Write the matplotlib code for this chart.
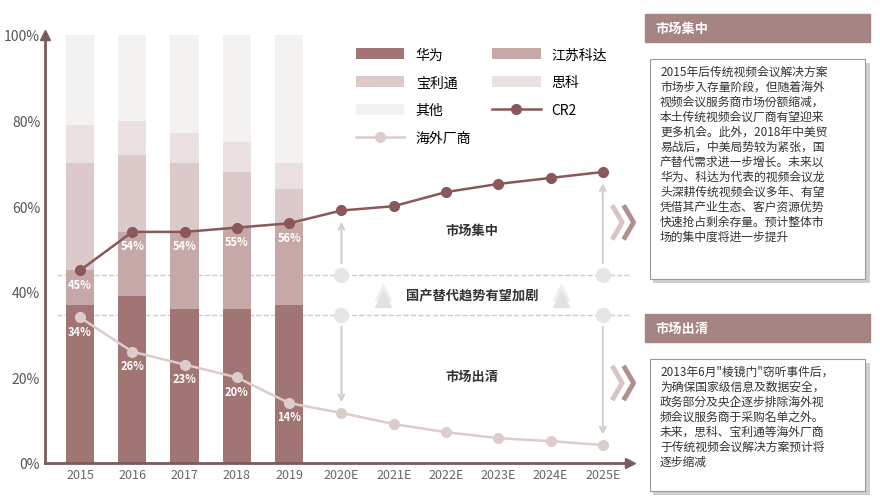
import matplotlib
matplotlib.use("Agg")
import matplotlib.pyplot as plt
from matplotlib import font_manager as fm
from matplotlib.patches import Rectangle
from matplotlib.lines import Line2D

names = sorted({f.name for f in fm.fontManager.ttflist if 'CJK' in f.name})
cjk = next((n for n in names if 'SC' in n), names[0] if names else 'DejaVu Sans')
plt.rcParams['font.family'] = [cjk, 'DejaVu Sans']

years = ['2015','2016','2017','2018','2019','2020E','2021E','2022E','2023E','2024E','2025E']
huawei = [37, 39, 36, 36, 37]
keda = [8, 15, 18, 19, 19]
poly = [25, 18, 16, 13, 8]
cisco = [9, 8, 7, 7, 6]
other = [21, 20, 23, 25, 30]
cr2 = [45, 54, 54, 55, 56, 59, 60, 63.3, 65.2, 66.6, 68]
overseas = [34, 26, 23, 20, 14, 11.7, 9.1, 7.2, 5.8, 5.1, 4.2]
cr2_labels = ['45%', '54%', '54%', '55%', '56%']
ov_labels = ['34%', '26%', '23%', '20%', '14%']

c_hw, c_kd, c_pl, c_cs, c_ot = '#a27575', '#c6a8a8', '#dcc9c9', '#ebe0e0', '#f4f1f1'
c_cr2, c_ov = '#8a5858', '#dccccc'
axc = '#7a5a5a'

fig = plt.figure(figsize=(8.8, 5.02), dpi=100)
ax = fig.add_axes([45/880, 38/502, 585/880, 428/502])
x = list(range(len(years)))
xb = x[:5]
w = 0.54
b = [0]*5
H = {}
for vals, col, lab in [(huawei, c_hw, '华为'), (keda, c_kd, '江苏科达'), (poly, c_pl, '宝利通'),
                       (cisco, c_cs, '思科'), (other, c_ot, '其他')]:
    H[lab] = ax.bar(xb, vals, w, bottom=b, color=col, label=lab, zorder=1)
    b = [bb + v for bb, v in zip(b, vals)]
H['CR2'], = ax.plot(x, cr2, color=c_cr2, lw=1.8, marker='o', ms=7, label='CR2', zorder=4)
H['海外厂商'], = ax.plot(x, overseas, color=c_ov, lw=1.8, marker='o', ms=7, label='海外厂商', zorder=4)
for i in range(5):
    ax.text(i, cr2[i] - 3.2, cr2_labels[i], ha='center', va='center', fontsize=8, color='white', fontweight='bold', zorder=5)
    ax.text(i, overseas[i] - 3.2, ov_labels[i], ha='center', va='center', fontsize=8, color='white', fontweight='bold', zorder=5)

ax.set_xlim(-0.67, 10.52)
ax.set_ylim(0, 100)
ax.set_xticks(x)
ax.set_xticklabels(years, fontsize=9, color='#666666')
ax.set_yticks([0, 20, 40, 60, 80, 100])
ax.set_yticklabels(['0%', '20%', '40%', '60%', '80%', '100%'], fontsize=10, color='#555555')
ax.tick_params(length=0)
for s in ['top', 'right']:
    ax.spines[s].set_visible(False)
for s in ['left', 'bottom']:
    ax.spines[s].set_color(axc)
    ax.spines[s].set_linewidth(2)
ax.plot(1, 0, '>', transform=ax.transAxes, color=axc, ms=7, clip_on=False)
ax.plot(0, 1, '^', transform=ax.transAxes, color=axc, ms=7, clip_on=False)

ax.axhline(44, xmin=0.02, xmax=1.0, color='#cccccc', ls='--', lw=1, zorder=0)
ax.axhline(34.5, xmin=0.02, xmax=1.0, color='#cccccc', ls='--', lw=1, zorder=0)
for xi in [5, 10]:
    ax.plot([xi], [44], 'o', color='#e6e6e6', ms=10, zorder=3)
    ax.plot([xi], [34.5], 'o', color='#e6e6e6', ms=10, zorder=3)
ap = dict(arrowstyle='->', color='#d0d0d0', lw=1.5)
ax.annotate('', xy=(5, 57), xytext=(5, 46), arrowprops=ap)
ax.annotate('', xy=(5, 13.5), xytext=(5, 32.5), arrowprops=ap)
ax.annotate('', xy=(10, 66), xytext=(10, 46), arrowprops=ap)
ax.annotate('', xy=(10, 6), xytext=(10, 32.5), arrowprops=ap)
ax.text(7.5, 53.5, '市场集中', ha='center', fontsize=9.5, style='italic', fontweight='bold', color='#333333')
ax.text(7.5, 19.5, '市场出清', ha='center', fontsize=9.5, style='italic', fontweight='bold', color='#333333')
ax.text(7.5, 38.5, '国产替代趋势有望加剧', ha='center', fontsize=9.5, fontweight='bold', color='#333333')
for xi in [5.8, 9.2]:
    ax.plot([xi], [40], '^', color='#eeeeee', ms=12, zorder=2)
    ax.plot([xi], [38.3], '^', color='#e2e2e2', ms=12, zorder=2)

order = ['华为', '宝利通', '其他', '海外厂商', '江苏科达', '思科', 'CR2']
ax.legend([H[k] for k in order], order, ncol=2, loc='upper left', bbox_to_anchor=(0.51, 1.0),
          frameon=False, fontsize=10, handlelength=3.5, columnspacing=1.5, labelspacing=1.0,
          handleheight=0.9)

for yy in [0.555, 0.235]:
    for dx in [0, 0.013]:
        fig.add_artist(Line2D([0.697 + dx, 0.707 + dx, 0.697 + dx], [yy + 0.03, yy, yy - 0.03],
                              color='#b08f8f' if dx else '#d8c4c4', lw=3.5, transform=fig.transFigure))

def panel(y_head, y_box_top, y_box_bot, title, body):
    fig.add_artist(Rectangle((645/880, 1 - (y_head + 28)/502), 225/880, 28/502, color='#a78484', transform=fig.transFigure))
    fig.text(655/880, 1 - (y_head + 14)/502, title, color='white', fontsize=9.5, fontweight='bold', va='center')
    fig.add_artist(Rectangle((653/880, 1 - (y_box_bot + 4)/502), 217/880, (y_box_bot - y_box_top)/502,
                             facecolor='#cfcfcf', edgecolor='none', transform=fig.transFigure))
    fig.add_artist(Rectangle((650/880, 1 - y_box_bot/502), 215/880, (y_box_bot - y_box_top)/502,
                             facecolor='white', edgecolor='#999999', lw=0.8, transform=fig.transFigure))
    fig.text(660/880, 1 - (y_box_top + 6)/502, body, fontsize=8.5, style='italic', color='#333333',
             ha='left', va='top', linespacing=1.2)

panel(15, 60, 280, '市场集中',
      '2015年后传统视频会议解决方案\n市场步入存量阶段，但随着海外\n视频会议服务商市场份额缩减，\n本土传统视频会议厂商有望迎来\n更多机会。此外，2018年中美贸\n易战后，中美局势较为紧张，国\n产替代需求进一步增长。未来以\n华为、科达为代表的视频会议龙\n头深耕传统视频会议多年、有望\n凭借其产业生态、客户资源优势\n快速抢占剩余存量。预计整体市\n场的集中度将进一步提升')
panel(315, 360, 492, '市场出清',
      '2013年6月"棱镜门"窃听事件后，\n为确保国家级信息及数据安全，\n政务部分及央企逐步排除海外视\n频会议服务商于采购名单之外。\n未来，思科、宝利通等海外厂商\n于传统视频会议解决方案预计将\n逐步缩减')

fig.savefig('out.png', dpi=100)
